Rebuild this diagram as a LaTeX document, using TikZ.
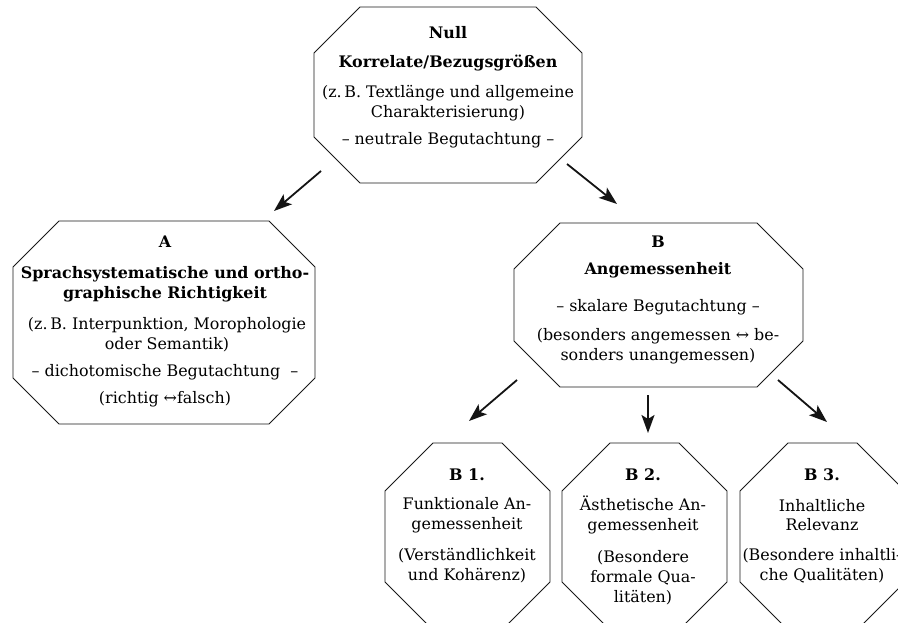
\documentclass[tikz,border=0pt]{standalone}
\usepackage{fontspec}
\setmainfont{DejaVu Serif}
\usetikzlibrary{arrows.meta}
\tikzset{
  frame/.style={rectangle, inner sep=0pt, outer sep=0pt},
  octaline/.style={draw=black!90, line width=0.8pt, line join=miter},
  arr/.style={line width=1.8pt, draw=black!92, -{Stealth[length=18pt,width=13pt,inset=4pt]}},
  txt/.style={inner sep=0pt, align=center, text=black,
    font=\fontsize{15.9}{19.8}\selectfont},
  ttl/.style={txt, font=\fontsize{15.9}{19.8}\selectfont\bfseries},
}
\newcommand\octo[2]{%
  \draw[octaline] ([xshift=#2]#1.north west) -- ([xshift=-#2]#1.north east)
   -- ([yshift=-#2]#1.north east) -- ([yshift=#2]#1.south east)
   -- ([xshift=-#2]#1.south east) -- ([xshift=#2]#1.south west)
   -- ([yshift=#2]#1.south west) -- ([yshift=-#2]#1.north west) -- cycle;}
\begin{document}
\begin{tikzpicture}[x=1pt,y=-1pt]
\useasboundingbox (0,0) rectangle (898,623);
\fill[white] (0,0) rectangle (898,623);
\clip (0,0) rectangle (898,623);

% octagon frames
\node[frame, minimum width=268pt, minimum height=176pt] (null) at (448,95) {};
\node[frame, minimum width=302pt, minimum height=203pt] (boxA) at (164,322.5) {};
\node[frame, minimum width=289pt, minimum height=164pt] (boxB) at (658.5,305) {};
\node[frame, minimum width=165pt, minimum height=187pt] (boxB1) at (467.5,536.5) {};
\node[frame, minimum width=165pt, minimum height=187pt] (boxB2) at (644.5,536.5) {};
\node[frame, minimum width=165pt, minimum height=187pt] (boxB3) at (822.5,536.5) {};
\octo{null}{46pt}
\octo{boxA}{46pt}
\octo{boxB}{46pt}
\octo{boxB1}{48pt}
\octo{boxB2}{48pt}
\octo{boxB3}{48pt}

% Null texts
\node[ttl] (nullT) at (448,33) {Null};
\node[ttl] (nullH) at (448,63) {Korrelate/Bezugsgrößen};
\node[txt] (nullP) at (448,103.5) {(z.\,B. Textlänge und allgemeine\\Charakterisierung)};
\node[txt] (nullQ) at (448,140) {– neutrale Begutachtung –};

% A texts
\node[ttl] (aT) at (165,242) {A};
\node[ttl] (aH) at (165,284.5) {Sprachsystematische und ortho-\\graphische Richtigkeit};
\node[txt] (aP) at (167,335) {(z.\,B. Interpunktion, Morophologie\\oder Semantik)};
\node[txt] (aQ) at (165,372) {– dichotomische Begutachtung~ –};
\node[txt] (aR) at (165,399) {(richtig ↔falsch)};

% B texts
\node[ttl] (bT) at (658,242) {B};
\node[ttl] (bH) at (658,270) {Angemessenheit};
\node[txt] (bQ) at (658,307) {– skalare Begutachtung –};
\node[txt] (bP) at (658,346.5) {(besonders angemessen ↔ be-\\sonders unangemessen)};

% B1
\node[ttl] (b1T) at (467,475) {B 1.};
\node[txt] (b1H) at (467,515) {Funktionale An-\\gemessenheit};
\node[txt] (b1P) at (467,566) {(Verständlichkeit\\und Kohärenz)};
% B2
\node[ttl] (b2T) at (643,475) {B 2.};
\node[txt] (b2H) at (643,515) {Ästhetische An-\\gemessenheit};
\node[txt] (b2P) at (643,577.5) {(Besondere\\formale Qua-\\litäten)};
% B3
\node[ttl] (b3T) at (822,475) {B 3.};
\node[txt] (b3H) at (822,515) {Inhaltliche\\Relevanz};
\node[txt] (b3P) at (822,566) {(Besondere inhaltli-\\che Qualitäten)};

% arrow end points
\coordinate (nA1) at (321,171); \coordinate (nA2) at (274,211);
\coordinate (nB1) at (567,164); \coordinate (nB2) at (617,204);
\coordinate (b11) at (517,380); \coordinate (b12) at (469,421);
\coordinate (b21) at (648,395); \coordinate (b22) at (648,433);
\coordinate (b31) at (778,380); \coordinate (b32) at (827,422);

\draw[arr] (nA1) -- (nA2);
\draw[arr] (nB1) -- (nB2);
\draw[arr] (b11) -- (b12);
\draw[arr] (b21) -- (b22);
\draw[arr] (b31) -- (b32);
\end{tikzpicture}
\end{document}
